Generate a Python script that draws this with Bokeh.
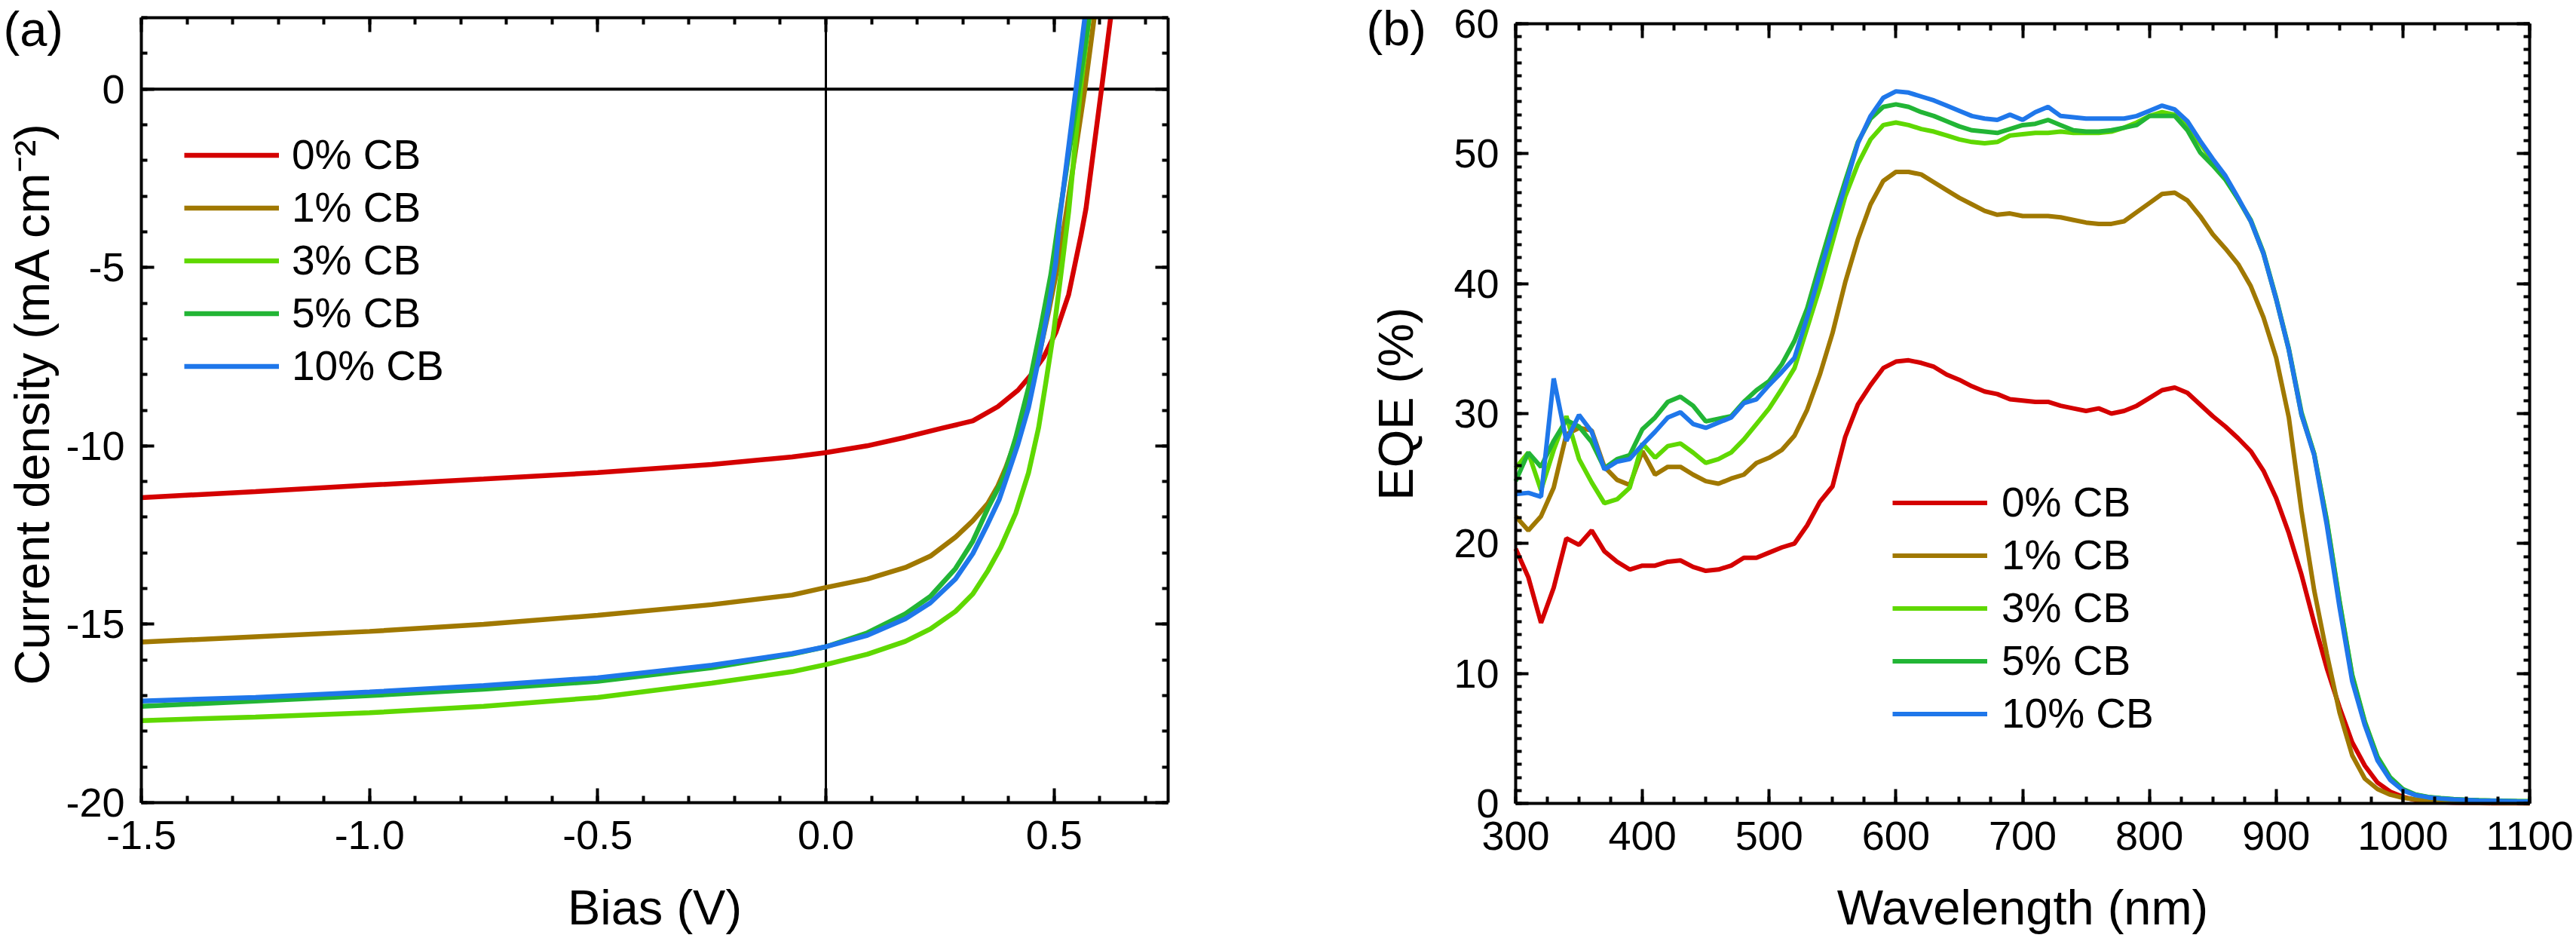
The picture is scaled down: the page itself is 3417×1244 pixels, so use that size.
import math
from bokeh.plotting import figure
from bokeh.models import (Range1d, LinearAxis, FixedTicker, PrintfTickFormatter,
                          Legend, LegendItem, Label)
from bokeh.layouts import row
from bokeh.embed import file_html
from bokeh.resources import INLINE

FONT = "Liberation Sans"

# ---------------- data: (a) J-V curves ----------------
labels = ["0% CB", "1% CB", "3% CB", "5% CB", "10% CB"]
colors = ["#D40000", "#A07800", "#5FD800", "#22B535", "#1F77EA"]

v_0cb = [-1.5, -1.25, -1.0, -0.75, -0.5, -0.25, -0.074, 0.0, 0.09, 0.174, 0.256, 0.322,
         0.377, 0.421, 0.449, 0.477, 0.504, 0.532, 0.559, 0.57, 0.604, 0.624]
j_0cb = [-11.45, -11.28, -11.1, -10.93, -10.75, -10.52, -10.31, -10.19, -10.0, -9.76, -9.5, -9.3,
         -8.9, -8.44, -8.02, -7.52, -6.82, -5.76, -4.1, -3.35, 0.0, 2.0]

v_1cb = [-1.5, -1.25, -1.0, -0.75, -0.5, -0.25, -0.074, 0.0, 0.091, 0.174, 0.229, 0.284,
         0.322, 0.355, 0.377, 0.394, 0.41, 0.427, 0.438, 0.466, 0.488, 0.51, 0.527, 0.5675, 0.588]
j_1cb = [-15.5, -15.35, -15.2, -15.0, -14.75, -14.45, -14.18, -13.97, -13.73, -13.41, -13.09, -12.56,
         -12.1, -11.61, -11.12, -10.62, -10.06, -9.5, -8.95, -7.52, -6.25, -4.84, -3.44, 0.0, 2.0]

v_3cb = [-1.5, -1.25, -1.0, -0.75, -0.5, -0.25, -0.074, 0.0, 0.091, 0.174, 0.229, 0.284,
         0.322, 0.355, 0.383, 0.416, 0.444, 0.466, 0.482, 0.499, 0.515, 0.532, 0.558, 0.577]
j_3cb = [-17.7, -17.6, -17.48, -17.3, -17.05, -16.65, -16.33, -16.13, -15.84, -15.48, -15.13, -14.64,
         -14.15, -13.5, -12.85, -11.89, -10.76, -9.5, -8.23, -6.82, -5.2, -3.44, 0.0, 2.0]

v_5cb = [-1.5, -1.25, -1.0, -0.75, -0.5, -0.25, -0.074, 0.0, 0.091, 0.174, 0.229, 0.284,
         0.322, 0.355, 0.389, 0.416, 0.444, 0.471, 0.493, 0.51, 0.554, 0.5767]
j_5cb = [-17.3, -17.15, -17.0, -16.82, -16.6, -16.22, -15.84, -15.63, -15.24, -14.71, -14.22, -13.44,
         -12.67, -11.75, -10.9, -9.77, -8.37, -6.68, -5.2, -3.7, 0.0, 2.0]

v_10cb = [-1.5, -1.25, -1.0, -0.75, -0.5, -0.25, -0.074, 0.0, 0.091, 0.174, 0.229, 0.284,
          0.322, 0.355, 0.38, 0.4, 0.421, 0.444, 0.466, 0.488, 0.504, 0.513, 0.548, 0.5675]
j_10cb = [-17.15, -17.05, -16.9, -16.72, -16.5, -16.15, -15.82, -15.63, -15.31, -14.85, -14.4, -13.73,
          -13.02, -12.18, -11.5, -10.75, -9.95, -8.93, -7.59, -6.11, -4.84, -3.55, 0.0, 2.0]

jv_v = [v_0cb, v_1cb, v_3cb, v_5cb, v_10cb]
jv_j = [j_0cb, j_1cb, j_3cb, j_5cb, j_10cb]

# ---------------- data: (b) EQE spectra ----------------
wavelength = list(range(300, 1101, 10))

eqe_0cb = [19.6, 17.4, 13.9, 16.6, 20.4, 19.9, 21.0, 19.4, 18.6, 18.0,
           18.3, 18.3, 18.6, 18.7, 18.2, 17.9, 18.0, 18.3, 18.9, 18.9,
           19.3, 19.7, 20.0, 21.4, 23.2, 24.4, 28.2, 30.7, 32.2, 33.5,
           34.0, 34.1, 33.9, 33.6, 33.0, 32.6, 32.1, 31.7, 31.5, 31.1,
           31.0, 30.9, 30.9, 30.6, 30.4, 30.2, 30.4, 30.0, 30.2, 30.6,
           31.2, 31.8, 32.0, 31.6, 30.7, 29.8, 29.0, 28.1, 27.1, 25.6,
           23.5, 20.8, 17.6, 13.9, 10.4, 7.4, 4.7, 2.9, 1.6, 0.9,
           0.5, 0.26, 0.16, 0.1, 0.06, 0.04, 0.03, 0.02, 0.02, 0.01, 0.01]

eqe_1cb = [22.1, 21.0, 22.1, 24.3, 28.4, 28.9, 28.7, 25.9, 24.9, 24.5,
           27.1, 25.3, 25.9, 25.9, 25.3, 24.8, 24.6, 25.0, 25.3, 26.2,
           26.6, 27.2, 28.3, 30.3, 33.0, 36.2, 40.1, 43.4, 46.1, 47.9,
           48.6, 48.6, 48.4, 47.8, 47.2, 46.6, 46.1, 45.6, 45.3, 45.4,
           45.2, 45.2, 45.2, 45.1, 44.9, 44.7, 44.6, 44.6, 44.8, 45.5,
           46.2, 46.9, 47.0, 46.4, 45.2, 43.8, 42.7, 41.5, 39.8, 37.4,
           34.3, 29.7, 22.5, 16.4, 11.5, 7.0, 3.7, 1.9, 1.1, 0.67,
           0.43, 0.3, 0.2, 0.12, 0.08, 0.06, 0.05, 0.04, 0.03, 0.03, 0.02]

eqe_3cb = [25.8, 27.0, 24.1, 27.2, 29.8, 26.5, 24.7, 23.1, 23.4, 24.3,
           27.7, 26.6, 27.5, 27.7, 27.0, 26.2, 26.5, 27.0, 28.0, 29.2,
           30.4, 31.9, 33.5, 36.6, 39.7, 43.2, 46.7, 49.2, 51.1, 52.2,
           52.4, 52.2, 51.9, 51.7, 51.4, 51.1, 50.9, 50.8, 50.9, 51.4,
           51.5, 51.6, 51.6, 51.7, 51.6, 51.6, 51.6, 51.7, 52.0, 52.4,
           52.9, 53.2, 53.0, 52.1, 50.8, 49.4, 48.1, 46.5, 44.8, 42.3,
           38.8, 34.9, 29.9, 26.9, 21.7, 15.5, 9.8, 6.2, 3.5, 1.9,
           1.05, 0.65, 0.48, 0.38, 0.31, 0.27, 0.23, 0.21, 0.19, 0.17, 0.16]

eqe_5cb = [24.8, 27.0, 25.9, 27.9, 29.5, 29.0, 27.8, 25.8, 26.5, 26.8,
           28.8, 29.7, 30.9, 31.3, 30.6, 29.4, 29.6, 29.8, 30.9, 31.8,
           32.5, 33.8, 35.6, 38.1, 41.5, 44.8, 47.9, 50.9, 52.7, 53.6,
           53.8, 53.6, 53.2, 52.9, 52.5, 52.1, 51.8, 51.7, 51.6, 51.9,
           52.2, 52.3, 52.6, 52.2, 51.8, 51.7, 51.7, 51.8, 52.0, 52.2,
           52.9, 52.9, 52.9, 51.8, 50.1, 49.1, 48.0, 46.5, 44.9, 42.4,
           38.9, 35.0, 30.1, 26.9, 21.8, 15.6, 9.9, 6.3, 3.6, 2.0,
           1.1, 0.68, 0.5, 0.4, 0.33, 0.28, 0.24, 0.22, 0.2, 0.18, 0.17]

eqe_10cb = [23.8, 23.9, 23.6, 32.7, 27.9, 29.9, 28.6, 25.7, 26.3, 26.5,
            27.6, 28.6, 29.7, 30.1, 29.2, 28.9, 29.3, 29.7, 30.8, 31.1,
            32.2, 33.2, 34.3, 37.4, 40.8, 44.2, 47.5, 50.8, 52.9, 54.3,
            54.8, 54.7, 54.4, 54.1, 53.7, 53.3, 52.9, 52.7, 52.6, 53.0,
            52.6, 53.2, 53.6, 52.9, 52.8, 52.7, 52.7, 52.7, 52.7, 52.9,
            53.3, 53.7, 53.4, 52.5, 51.0, 49.6, 48.3, 46.6, 44.8, 42.3,
            38.8, 34.9, 29.9, 26.8, 21.4, 15.1, 9.4, 6.0, 3.3, 1.8,
            1.0, 0.63, 0.47, 0.37, 0.3, 0.26, 0.22, 0.2, 0.18, 0.16, 0.15]

eqe = [eqe_0cb, eqe_1cb, eqe_3cb, eqe_5cb, eqe_10cb]

# axis limits and ticks
a_xlim = (-1.5, 0.75)
a_ylim = (-20.0, 2.0)
b_xlim = (300.0, 1100.0)
b_ylim = (0.0, 60.0)
a_xticks = [-1.5, -1.0, -0.5, 0.0, 0.5]
a_xminor = [round(-1.5 + 0.1 * i, 2) for i in range(23)]
a_yticks = [-20, -15, -10, -5, 0]
a_yminor = list(range(-20, 3))
b_xticks = list(range(300, 1101, 100))
b_xminor = list(range(300, 1101, 25))
b_yticks = list(range(0, 61, 10))
b_yminor = list(range(0, 61, 1))

# ---------------- layout geometry (page pixels; Bokeh's page has no body margin) ----------------
MARGIN = 0
FIG_H = 1240
A_X0, A_W = 0, 1708
B_X0, B_W = 1708, 1709
A_BOX = (187, 23, 1549, 1064)      # plot box: left, top, right, bottom
B_BOX = (2010, 31, 3355, 1065)


class Mapper:
    """Maps page pixels to data units for a figure whose frame fills its canvas."""
    def __init__(self, box, fig_x0, fig_w, xlim, ylim):
        l, t, r, b = box
        self.xs = (xlim[1] - xlim[0]) / (r - l)
        self.ys = (ylim[1] - ylim[0]) / (b - t)
        self.l, self.t, self.xlim, self.ylim = l, t, xlim, ylim
        self.x0 = self.x(fig_x0)
        self.x1 = self.x(fig_x0 + fig_w)
        self.y1 = self.y(MARGIN)
        self.y0 = self.y(MARGIN + FIG_H)

    def x(self, px):
        return self.xlim[0] + (px - self.l) * self.xs

    def y(self, py):
        return self.ylim[1] - (py - self.t) * self.ys


def base_axis(ax):
    ax.axis_line_width = 4
    ax.axis_line_color = "black"
    ax.major_tick_out = 0
    ax.minor_tick_out = 0
    ax.major_tick_line_width = 4
    ax.minor_tick_line_width = 4
    ax.major_tick_line_color = "black"
    ax.minor_tick_line_color = "black"
    ax.major_label_text_font = FONT
    ax.major_label_text_font_size = "54px"
    ax.major_label_text_color = "black"


def labelled_axis(p, side, loc, bounds, major, minor, major_len, minor_len, fmt, standoff):
    ax = LinearAxis(ticker=FixedTicker(ticks=major, minor_ticks=minor),
                    fixed_location=loc, bounds=bounds,
                    formatter=PrintfTickFormatter(format=fmt))
    base_axis(ax)
    ax.major_tick_in = major_len
    ax.minor_tick_in = minor_len
    ax.major_label_standoff = standoff
    p.add_layout(ax, side)


def bare_axis(p, side, loc, bounds, major, minor, major_len, minor_len):
    # tick marks only (no labels): long marks at major positions, short at minor ones
    ax1 = LinearAxis(ticker=FixedTicker(ticks=[], minor_ticks=major),
                     fixed_location=loc, bounds=bounds)
    base_axis(ax1)
    ax1.minor_tick_in = major_len
    ax2 = LinearAxis(ticker=FixedTicker(ticks=[], minor_ticks=minor),
                     fixed_location=loc, bounds=bounds)
    base_axis(ax2)
    ax2.axis_line_color = None
    ax2.minor_tick_in = minor_len
    p.add_layout(ax1, side)
    p.add_layout(ax2, side)


def make_fig(m, w):
    p = figure(width=w, height=FIG_H, output_backend="svg", toolbar_location=None,
               x_range=Range1d(m.x0, m.x1), y_range=Range1d(m.y0, m.y1),
               x_axis_location=None, y_axis_location=None,
               min_border_left=0, min_border_right=0, min_border_top=0, min_border_bottom=0)
    p.xgrid.visible = False
    p.ygrid.visible = False
    p.outline_line_color = None
    p.background_fill_color = "white"
    p.border_fill_color = "white"
    return p


def make_legend(renderers, loc, standoff):
    items = [LegendItem(label=lab, renderers=[r]) for lab, r in zip(labels, renderers)]
    return Legend(items=items, location=loc, orientation="vertical",
                  glyph_width=126, glyph_height=63, label_height=63,
                  label_standoff=standoff, spacing=6, padding=0, margin=0,
                  label_text_font=FONT, label_text_font_size="55px",
                  label_text_color="black",
                  border_line_color=None, background_fill_alpha=0)


def text(p, x, y, s, size, align="left", baseline="alphabetic", angle=0.0):
    p.add_layout(Label(x=x, y=y, text=s, text_font=FONT, text_font_size=size,
                       text_align=align, text_baseline=baseline, angle=angle,
                       text_color="black"))


def legend_loc(glyph_left_px, fig_x0, top_px):
    # Legend location is measured from the bottom-left corner of the canvas
    return (glyph_left_px - fig_x0, MARGIN + FIG_H - top_px - (5 * 63 + 4 * 6))


# ---------------- panel (a) ----------------
ma = Mapper(A_BOX, A_X0, A_W, a_xlim, a_ylim)
p1 = make_fig(ma, A_W)

p1.line(list(a_xlim), [0, 0], line_color="black", line_width=4)
p1.line([0, 0], list(a_ylim), line_color="black", line_width=3)

rend1 = []
for vv, jj, c in zip(jv_v, jv_j, colors):
    rend1.append(p1.line(vv, jj, line_color=c, line_width=6.5))

labelled_axis(p1, "below", a_ylim[0], a_xlim, a_xticks, a_xminor, 19, 9, "%.1f", 24)
labelled_axis(p1, "left", a_xlim[0], a_ylim, a_yticks, a_yminor, 17, 8, "%d", 22)
bare_axis(p1, "above", a_ylim[1], a_xlim, a_xticks, a_xminor, 19, 9)
bare_axis(p1, "right", a_xlim[1], a_ylim, a_yticks, a_yminor, 17, 8)

p1.add_layout(make_legend(rend1, legend_loc(244, A_X0, 178), 17))

text(p1, sum(a_xlim) / 2, ma.y(1239), "Bias (V)", "65px", align="center", baseline="bottom")
text(p1, ma.x(42), ma.y(534), "Current density (mA cm\u207b\u00b2)", "65px",
     align="center", baseline="middle", angle=math.pi / 2)
text(p1, ma.x(4), ma.y(1), "(a)", "65px", baseline="top")

# ---------------- panel (b) ----------------
mb = Mapper(B_BOX, B_X0, B_W, b_xlim, b_ylim)
p2 = make_fig(mb, B_W)

rend2 = []
for yy, c in zip(eqe, colors):
    rend2.append(p2.line(wavelength, yy, line_color=c, line_width=6))

labelled_axis(p2, "below", b_ylim[0], b_xlim, b_xticks, b_xminor, 19, 9, "%d", 24)
labelled_axis(p2, "left", b_xlim[0], b_ylim, b_yticks, b_yminor, 17, 8, "%d", 22)
bare_axis(p2, "above", b_ylim[1], b_xlim, b_xticks, b_xminor, 19, 9)
bare_axis(p2, "right", b_xlim[1], b_ylim, b_yticks, b_yminor, 17, 8)

p2.add_layout(make_legend(rend2, legend_loc(2510, B_X0, 639), 19))

text(p2, sum(b_xlim) / 2, mb.y(1239), "Wavelength (nm)", "65px", align="center", baseline="bottom")
text(p2, mb.x(1851), mb.y(535), "EQE (%)", "65px",
     align="center", baseline="middle", angle=math.pi / 2)
text(p2, mb.x(1812), mb.y(0), "(b)", "65px", baseline="top")

layout = row(p1, p2)
open("out.html", "w").write(file_html(layout, INLINE))
